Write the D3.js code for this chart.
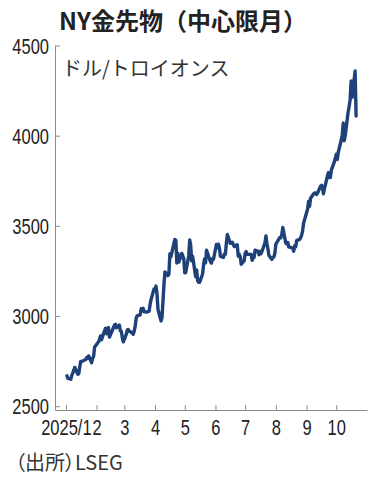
<!DOCTYPE html>
<html>
<head>
<meta charset="utf-8">
<script src="https://cdn.jsdelivr.net/npm/d3@7"></script>
<style>
  html, body { margin: 0; padding: 0; background: #fff; }
  .jp { font-family: "Noto Sans CJK JP", sans-serif; }
  .num { font-family: "Liberation Sans", Arial, sans-serif; font-size: 22px; fill: #222; }
</style>
</head>
<body>
<div class="canva"></div>
<script>
// gold front month settle, USD / troy oz
const dates = [
  "2025-01-02","2025-01-03","2025-01-06","2025-01-07","2025-01-08","2025-01-10","2025-01-13","2025-01-14",
  "2025-01-15","2025-01-16","2025-01-17","2025-01-21","2025-01-22","2025-01-23","2025-01-24","2025-01-27",
  "2025-01-28","2025-01-29","2025-01-30","2025-01-31",
  "2025-02-03","2025-02-04","2025-02-05","2025-02-06","2025-02-07","2025-02-10","2025-02-11","2025-02-12",
  "2025-02-13","2025-02-14","2025-02-18","2025-02-19","2025-02-20","2025-02-21","2025-02-24","2025-02-25",
  "2025-02-26","2025-02-27","2025-02-28",
  "2025-03-03","2025-03-04","2025-03-05","2025-03-06","2025-03-07","2025-03-10","2025-03-11","2025-03-12",
  "2025-03-13","2025-03-14","2025-03-17","2025-03-18","2025-03-19","2025-03-20","2025-03-21","2025-03-24",
  "2025-03-25","2025-03-26","2025-03-27","2025-03-28","2025-03-31",
  "2025-04-01","2025-04-02","2025-04-03","2025-04-04","2025-04-07","2025-04-08","2025-04-09","2025-04-10",
  "2025-04-11","2025-04-14","2025-04-15","2025-04-16","2025-04-17","2025-04-21","2025-04-22","2025-04-23",
  "2025-04-24","2025-04-25","2025-04-28","2025-04-29","2025-04-30",
  "2025-05-01","2025-05-02","2025-05-05","2025-05-06","2025-05-07","2025-05-08","2025-05-09","2025-05-12",
  "2025-05-13","2025-05-14","2025-05-15","2025-05-16","2025-05-19","2025-05-20","2025-05-21","2025-05-22",
  "2025-05-23","2025-05-27","2025-05-28","2025-05-29","2025-05-30",
  "2025-06-02","2025-06-03","2025-06-04","2025-06-05","2025-06-06","2025-06-09","2025-06-10","2025-06-11",
  "2025-06-12","2025-06-13","2025-06-16","2025-06-17","2025-06-18","2025-06-20","2025-06-23","2025-06-24",
  "2025-06-25","2025-06-26","2025-06-27","2025-06-30",
  "2025-07-01","2025-07-02","2025-07-03","2025-07-07","2025-07-08","2025-07-09","2025-07-10","2025-07-11",
  "2025-07-14","2025-07-15","2025-07-16","2025-07-17","2025-07-18","2025-07-21","2025-07-22","2025-07-23",
  "2025-07-24","2025-07-25","2025-07-28","2025-07-29","2025-07-30","2025-07-31",
  "2025-08-01","2025-08-04","2025-08-05","2025-08-06","2025-08-07","2025-08-08","2025-08-11","2025-08-12",
  "2025-08-13","2025-08-14","2025-08-15","2025-08-18","2025-08-19","2025-08-20","2025-08-21","2025-08-22",
  "2025-08-25","2025-08-26","2025-08-27","2025-08-28","2025-08-29",
  "2025-09-02","2025-09-03","2025-09-04","2025-09-05","2025-09-08","2025-09-09","2025-09-10","2025-09-11",
  "2025-09-12","2025-09-15","2025-09-16","2025-09-17","2025-09-18","2025-09-19","2025-09-22","2025-09-23",
  "2025-09-24","2025-09-25","2025-09-26","2025-09-29","2025-09-30",
  "2025-10-01","2025-10-02","2025-10-03","2025-10-06","2025-10-07","2025-10-08","2025-10-09","2025-10-10",
  "2025-10-13","2025-10-14","2025-10-15","2025-10-16","2025-10-17","2025-10-20","2025-10-21"
];
const prices = [
  2669,2655,2650,2672,2685,2715,2677,2680,
  2717,2748,2748,2759,2770,2765,2779,2741,
  2767,2776,2829,2835,
  2857,2873,2890,2868,2887,2932,2902,2921,
  2936,2883,2935,2950,2954,2935,2950,2917,
  2915,2880,2857,
  2900,2923,2925,2915,2915,2899,2917,2945,
  2990,3001,3006,3041,3041,3043,3023,3022,
  3026,3026,3064,3092,3150,
  3143,3166,3121,3036,2973,2990,3080,3176,
  3245,3224,3233,3346,3328,3425,3420,3294,
  3348,3299,3347,3333,3319,
  3240,3241,3333,3422,3392,3306,3330,3218,
  3256,3196,3187,3187,3233,3283,3317,3295,
  3365,3301,3293,3318,3315,
  3397,3378,3398,3376,3331,3325,3344,3343,
  3402,3452,3403,3407,3409,3385,3395,3333,
  3343,3328,3287,3307,
  3349,3357,3342,3342,3309,3323,3325,3365,
  3359,3340,3359,3346,3359,3406,3444,3397,
  3373,3336,3314,3326,3327,3348,
  3399,3427,3435,3434,3453,3491,3404,3400,
  3408,3383,3382,3377,3359,3390,3384,3418,
  3425,3434,3449,3474,3516,
  3592,3635,3608,3653,3677,3682,3682,3674,
  3680,3719,3725,3717,3678,3705,3775,3795,
  3768,3768,3809,3855,3873,
  3897,3868,3908,3976,4004,4070,3972,4000,
  4133,4163,4201,4304,4213,4359,4109
];
const yTicks = [2500, 3000, 3500, 4000, 4500];
const monthTicks = ["2025-01-01","2025-02-01","2025-03-01","2025-04-01","2025-05-01",
                    "2025-06-01","2025-07-01","2025-08-01","2025-09-01","2025-10-01"];
const monthLabels = ["2025/1","2","3","4","5","6","7","8","9","10"];

const width = 380, height = 482;
const parse = d3.timeParse("%Y-%m-%d");
const data = dates.map((d, i) => ({date: parse(d), value: prices[i]}));

const svg = d3.select(".canva").append("svg")
  .attr("width", width)
  .attr("height", height)
  .style("display", "block");

const margin = {left: 55, right: 13, top: 45.5, bottom: 72};
const narrow = 0.75;
const axisColor = "#8c8c8c";

const x = d3.scaleTime()
  .domain([parse("2024-12-21"), parse("2025-11-01")])
  .range([margin.left, width - margin.right]);

const y = d3.scaleLinear()
  .domain([2479, 4500])
  .range([height - margin.bottom, margin.top]);

// title
svg.append("text")
  .attr("class", "jp")
  .attr("x", 59)
  .attr("y", 30)
  .attr("font-size", 24)
  .attr("font-weight", "bold")
  .attr("fill", "#222")
  .text("NY金先物（中心限月）");

// y axis
const yAxis = svg.append("g")
  .attr("transform", `translate(${margin.left},0)`)
  .call(d3.axisLeft(y).tickValues(yTicks).tickSize(-5).tickSizeOuter(0).tickFormat(d => d));
yAxis.select(".domain").attr("stroke", axisColor);
yAxis.selectAll(".tick line").attr("stroke", axisColor);
yAxis.selectAll(".tick text")
  .attr("class", "num")
  .attr("x", 0)
  .attr("dy", "0.35em")
  .attr("font-size", null)
  .attr("font-family", null)
  .attr("transform", `translate(-6,0) scale(${narrow},1)`);

// x axis
const xAxis = svg.append("g")
  .attr("transform", `translate(0,${height - margin.bottom})`)
  .call(d3.axisBottom(x)
    .tickValues(monthTicks.map(parse))
    .tickSize(-5)
    .tickSizeOuter(0)
    .tickFormat((d, i) => monthLabels[i]));
xAxis.select(".domain").attr("stroke", axisColor);
xAxis.selectAll(".tick line").attr("stroke", axisColor);
xAxis.selectAll(".tick text")
  .attr("class", "num")
  .attr("y", 0)
  .attr("dy", 0)
  .attr("font-size", null)
  .attr("font-family", null)
  .attr("transform", `translate(0,25) scale(${narrow},1)`);

// unit
svg.append("text")
  .attr("class", "jp")
  .attr("x", 62)
  .attr("y", 76)
  .attr("font-size", 20)
  .attr("fill", "#333")
  .text("ドル/トロイオンス");

// price line
const line = d3.line()
  .x(d => x(d.date))
  .y(d => y(d.value));

svg.append("path")
  .datum(data)
  .attr("fill", "none")
  .attr("stroke", "#1d4178")
  .attr("stroke-width", 3.4)
  .attr("stroke-linejoin", "round")
  .attr("stroke-linecap", "round")
  .attr("d", line);

// source
svg.append("text")
  .attr("class", "jp")
  .attr("x", 15)
  .attr("y", 470)
  .attr("font-size", 20)
  .attr("fill", "#333")
  .style("font-feature-settings", "'palt'")
  .text("（出所）LSEG");
</script>
</body>
</html>
